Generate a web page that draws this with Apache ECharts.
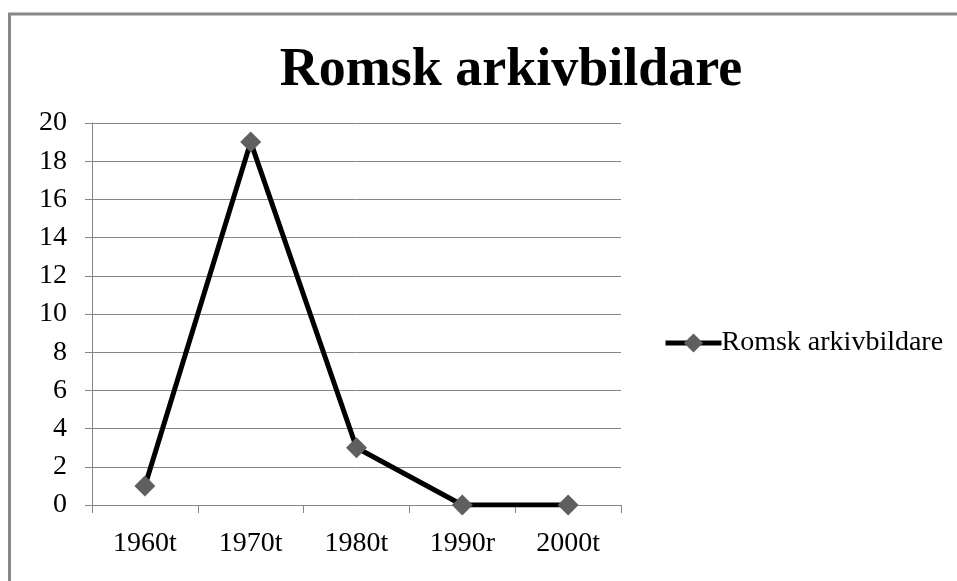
<!DOCTYPE html>
<html>
<head>
<meta charset="utf-8">
<script src="https://cdn.jsdelivr.net/npm/echarts@6/dist/echarts.min.js"></script>
<style>
html,body{margin:0;padding:0;background:#fff;}
#chart{width:957px;height:581px;}
</style>
</head>
<body>
<div id="chart"></div>
<script>
const titleText = 'Romsk arkivbildare';
const categories = ['1960t', '1970t', '1980t', '1990r', '2000t'];
const seriesName = 'Romsk arkivbildare';
const values = [1, 19, 3, 0, 0];
const yMin = 0, yMax = 20, yStep = 2;

const chart = echarts.init(document.getElementById('chart'));
const serif = '"Liberation Serif", "DejaVu Serif", serif';
chart.setOption({
  animation: false,
  backgroundColor: '#fff',
  title: {
    text: titleText,
    left: 506,
    top: 39,
    textAlign: 'center',
    textStyle: { fontFamily: serif, fontWeight: 'bold', fontSize: 54, color: '#000' }
  },
  graphic: [{
    type: 'rect',
    shape: { x: 9.5, y: 14, width: 1200, height: 1000 },
    style: { fill: 'none', stroke: '#888888', lineWidth: 3 },
    silent: true
  }],
  legend: {
    data: [seriesName],
    left: 658,
    top: 324,
    orient: 'vertical',
    itemWidth: 56,
    itemHeight: 24,
    itemGap: 0,
    lineStyle: { width: 5, color: '#000' },
    itemStyle: { color: '#5f5f5f' },
    textStyle: { fontFamily: serif, fontSize: 28, color: '#000', padding: [0, 0, 0, -5] }
  },
  grid: { left: 92, right: 336, top: 123, bottom: 76, containLabel: false },
  xAxis: {
    type: 'category',
    data: categories,
    boundaryGap: true,
    axisLine: { show: true, lineStyle: { color: '#868686', width: 1 } },
    axisTick: { show: true, length: 8, alignWithLabel: false, lineStyle: { color: '#868686' } },
    axisLabel: { margin: 25, fontFamily: serif, fontSize: 28, color: '#000' },
    splitLine: { show: false }
  },
  yAxis: {
    type: 'value',
    min: yMin, max: yMax, interval: yStep,
    axisLine: { show: true, lineStyle: { color: '#868686', width: 1 } },
    axisTick: { show: true, length: 7, lineStyle: { color: '#868686' } },
    axisLabel: { margin: 25, fontFamily: serif, fontSize: 28, color: '#000' },
    splitLine: { show: true, lineStyle: { color: '#868686', width: 1 } }
  },
  series: [{
    name: seriesName,
    type: 'line',
    data: values,
    symbol: 'diamond',
    symbolSize: 21,
    showAllSymbol: true,
    lineStyle: { color: '#000', width: 5 },
    itemStyle: { color: '#5f5f5f', borderWidth: 0 },
    z: 3
  }]
});
</script>
</body>
</html>
